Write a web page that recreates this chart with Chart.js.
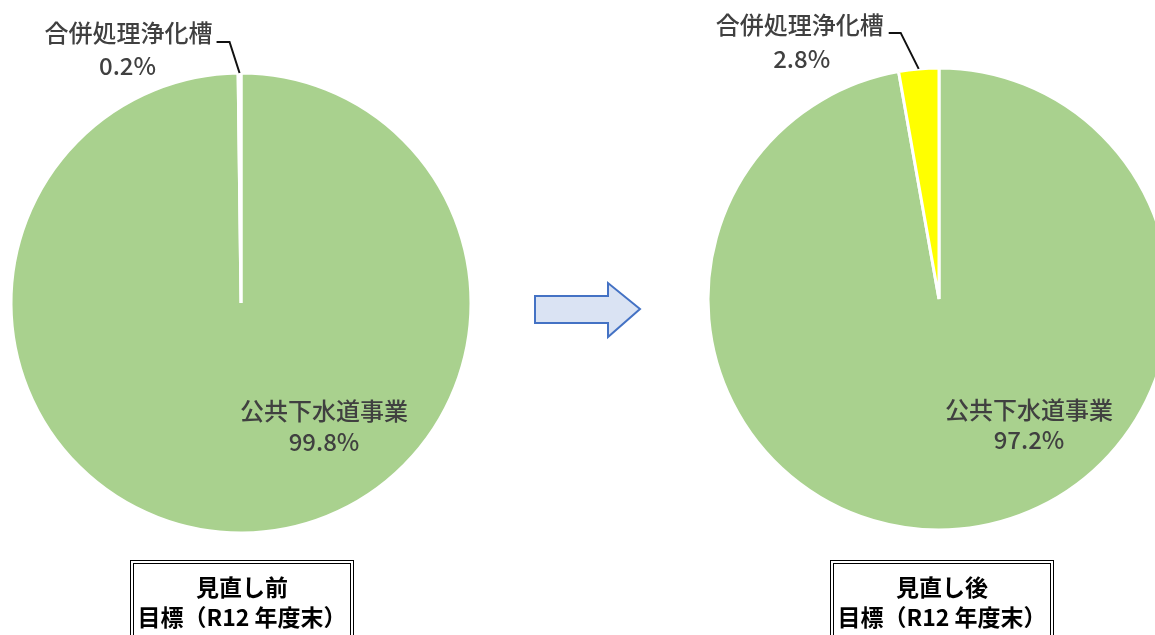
<!DOCTYPE html>
<html>
<head>
<meta charset="utf-8">
<script src="https://cdn.jsdelivr.net/npm/chart.js@4"></script>
<style>
html, body { margin: 0; padding: 0; background: #fff; overflow: hidden; width: 1155px; height: 635px; }
.pie { position: absolute; top: 0; }
.box {
    position: absolute; top: 560px; width: 224px; height: 100px; box-sizing: border-box;
    border: 4px double #000; text-align: center; padding-top: 7px;
    font: bold 23px "Noto Sans CJK JP", sans-serif; line-height: 30px; color: #000;
}
#arrow { position: absolute; left: 530px; top: 278px; }
</style>
</head>
<body>
<div class="pie" style="left:0px;"><canvas id="before" width="482" height="606"></canvas></div>
<div class="pie" style="left:699px;"><canvas id="after" width="480" height="598"></canvas></div>

<svg id="arrow" width="120" height="64">
    <polygon points="5,18 78,18 78,5 110,31 78,59 78,45 5,45" fill="#dae3f3" stroke="#4472c4" stroke-width="2"/>
</svg>

<div class="box" style="left:130px;">見直し前<br>目標（R12 年度末）</div>
<div class="box" style="left:830px;">見直し後<br>目標（R12 年度末）</div>

<script>
const categories = ['公共下水道事業', '合併処理浄化槽'];
const beforeValues = [99.8, 0.2];
const afterValues = [97.2, 2.8];

const labelFont = '500 24px "Noto Sans CJK JP", sans-serif';
const labelColor = '#404040';

// label placement, offsets in px (big slice from centre, small slice from its rim point)
const beforeLabels = { big: [83, 108, 139], small: { textRight: -27, textY: -40, pctX: -112, pctY: -7, elbow: [-10, -31], start: -23 } };
const afterLabels  = { big: [90, 111, 141], small: { textRight: -35, textY: -44, pctX: -117, pctY: -10, elbow: [-18, -36], start: -30 } };

function labelPlugin(pos) {
    return {
        id: 'sliceLabels',
        afterDatasetsDraw(chart) {
            const ctx = chart.ctx;
            const values = chart.data.datasets[0].data;
            const arcs = chart.getDatasetMeta(0).data;
            ctx.save();
            ctx.font = labelFont;
            ctx.fillStyle = labelColor;
            ctx.textBaseline = 'middle';

            // big slice
            const a0 = arcs[0];
            ctx.textAlign = 'center';
            ctx.fillText(categories[0], a0.x + pos.big[0], a0.y + pos.big[1]);
            ctx.fillText(values[0].toFixed(1) + '%', a0.x + pos.big[0], a0.y + pos.big[2]);

            // small slice with leader line
            const a1 = arcs[1];
            const mid = (a1.startAngle + a1.endAngle) / 2;
            const ex = a1.x + Math.cos(mid) * a1.outerRadius;
            const ey = a1.y + Math.sin(mid) * a1.outerRadius;
            const s = pos.small;
            ctx.strokeStyle = '#111';
            ctx.lineWidth = 2;
            ctx.beginPath();
            ctx.moveTo(ex + s.start, ey + s.elbow[1]);
            ctx.lineTo(ex + s.elbow[0], ey + s.elbow[1]);
            ctx.lineTo(ex, ey);
            ctx.stroke();
            ctx.textAlign = 'right';
            ctx.fillText(categories[1], ex + s.textRight, ey + s.textY);
            ctx.textAlign = 'center';
            ctx.fillText(values[1].toFixed(1) + '%', ex + s.pctX, ey + s.pctY);
            ctx.restore();
        }
    };
}

function makePie(id, values, colors, pos, r) {
    return new Chart(document.getElementById(id), {
        type: 'pie',
        data: {
            labels: categories,
            datasets: [{
                data: values,
                backgroundColor: colors,
                borderColor: '#ffffff',
                borderWidth: 3,
                radius: r
            }]
        },
        options: {
            responsive: false,
            animation: false,
            events: [],
            layout: { padding: 0 },
            plugins: {
                legend: { display: false },
                tooltip: { enabled: false }
            }
        },
        plugins: [labelPlugin(pos)]
    });
}

makePie('before', beforeValues, ['#a9d18e', '#ffffff'], beforeLabels, 230);
makePie('after', afterValues, ['#a9d18e', '#ffff00'], afterLabels, 231);
</script>
</body>
</html>
